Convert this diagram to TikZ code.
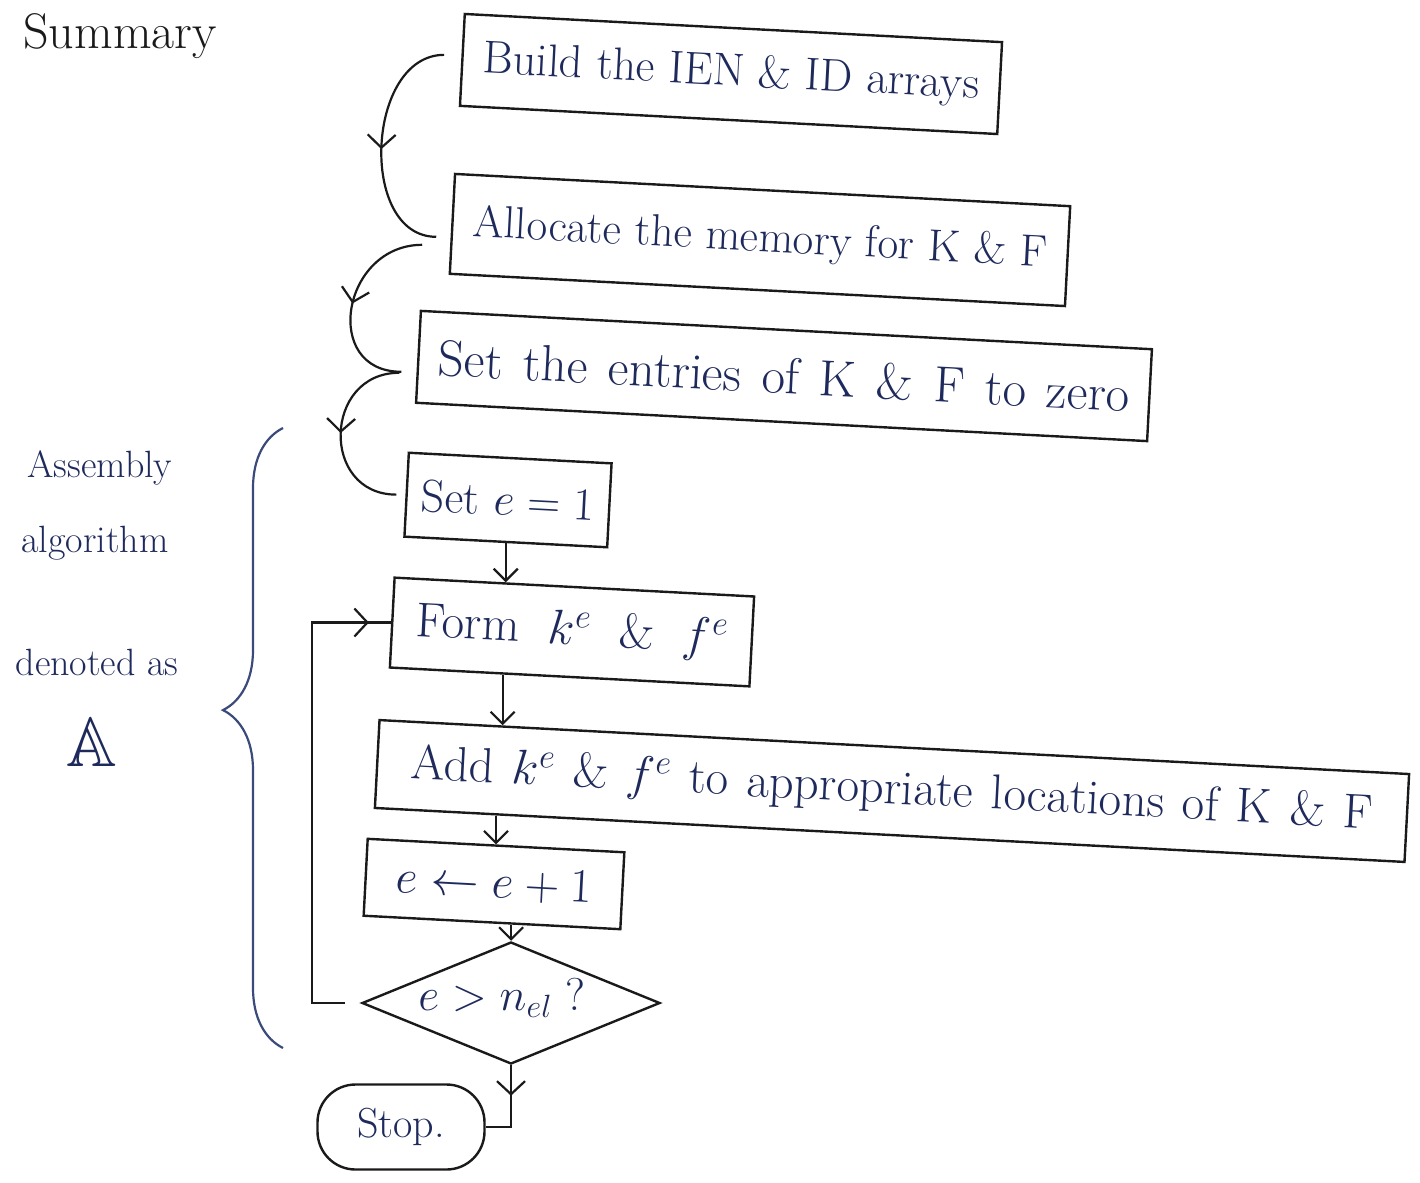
\RequirePackage{fix-cm}
\documentclass[tikz,border=0pt]{standalone}
\usepackage{amssymb}
\usetikzlibrary{shapes.geometric,decorations.markings,decorations.pathreplacing,arrows.meta,calc}
\definecolor{ink}{HTML}{1F2A5C}
\definecolor{pen}{HTML}{1A1A1A}
\definecolor{bracecol}{HTML}{3A4A7A}
\newcommand{\wsp}[1]{\spaceskip=#1\relax}
\begin{document}
\begin{tikzpicture}[x=1pt,y=-1pt,
  box/.style={draw=pen, line width=2.4pt, rectangle, rotate=-3, inner sep=0pt, text=ink,
              font=\fontsize{46}{52}\selectfont},
  flow/.style={draw=pen, line width=2.2pt},
  tipend/.style={-{Straight Barb[length=12pt,width=24pt]}},
  midtip/.style={postaction={decorate},
     decoration={markings, mark=at position #1 with {\arrow{Straight Barb[length=13pt,width=28pt]}}}},
  midtip/.default=0.5,
  lbl/.style={text=ink, font=\fontsize{38}{44}\selectfont, align=center},
]
\useasboundingbox (0,0) rectangle (1420,1182);

% left labels
\node[text=pen, font=\fontsize{50}{54}\selectfont] (summary) at (120,36) {Summary};
\node[lbl] (asm) at (100,468) {Assembly};
\node[lbl] (alg) at (95,543) {algorithm};
\node[lbl] (den) at (97,662) {denoted as};
\node[text=ink, font=\fontsize{70}{76}\selectfont] (bbA) at (92,742) {$\mathbb{A}$};

% brace
\draw[bracecol, line width=2.2pt, decorate, decoration={brace, amplitude=60pt, aspect=0.545}]
  (283,1048) -- (283,428);

% boxes
\node[box, minimum width=538pt, minimum height=92pt, font=\fontsize{46}{52}\selectfont] (b1) at (731,74) {Build the IEN \& ID arrays};
\node[box, minimum width=616pt, minimum height=100pt, font=\fontsize{45}{52}\selectfont] (b2) at (760,240) {Allocate the memory for K \& F};
\node[box, minimum width=732pt, minimum height=92pt, font=\fontsize{51}{58}\selectfont] (b3) at (784,376) {\wsp{0.4em}Set the entries of K \& F to zero};
\node[box, minimum width=203pt, minimum height=84pt] (b4) at (508,500) {Set $e=1$};
\node[box, minimum width=360pt, minimum height=90pt, font=\fontsize{49}{56}\selectfont] (b5) at (572,632) {\wsp{0.58em}Form $k^e$ \& $f^e$};
\node[box, minimum width=1031pt, minimum height=88pt, font=\fontsize{49}{56}\selectfont] (b6) at (892,791) {\wsp{0.37em}Add $k^e$ \& $f^e$ to appropriate locations of K \& F};
\node[box, minimum width=257pt, minimum height=77pt, font=\fontsize{48}{52}\selectfont] (b7) at (494,884) {$e \leftarrow e+1$};
\node[diamond, draw=pen, line width=2.4pt, minimum width=298pt, minimum height=122pt, inner sep=0pt] (dec) at (511,1003) {};
\node[text=ink, font=\fontsize{46}{52}\selectfont] (dect) at (502,998) {$e > n_{el}$ ?};
\node[draw=pen, line width=2.4pt, rounded corners=38pt, minimum width=167pt, minimum height=85pt,
      text=ink, font=\fontsize{42}{46}\selectfont] (stop) at (401,1127) {Stop.};

% curved connectors
\draw[flow, midtip=0.52] ($(b1.west)+(-17,-5)$) to[out=180,in=180,looseness=1.1] ($(b2.west)+(-15,13)$);
\draw[flow, midtip=0.5] ($(b2.west)+(-29,21)$) to[out=180,in=180,looseness=1.6] ($(b3.west)+(-16,15)$);
\draw[flow, midtip=0.5] ($(b3.west)+(-18,16)$) to[out=180,in=180,looseness=1.6] ($(b4.west)+(-9,0)$);

% edge points for the vertical connectors
\coordinate (b5top) at ($(b5.north west)!0.31!(b5.north east)$);
\coordinate (b5bot) at ($(b5.south west)!0.315!(b5.south east)$);
\coordinate (b6top) at ($(b6.north west)!0.12!(b6.north east)$);
\coordinate (b6bot) at ($(b6.south west)!0.1186!(b6.south east)$);
\coordinate (b7top) at ($(b7.north west)!0.504!(b7.north east)$);
\coordinate (b7bot) at ($(b7.south west)!0.574!(b7.south east)$);

% straight connectors
\draw[flow, tipend] (b4.south) -- (b4.south |- b5top);
\draw[flow, tipend] (b5bot) -- (b5bot |- b6top);
\draw[flow, tipend] (b6bot) -- (b6bot |- b7top);
\draw[flow, tipend] (b7bot) -- (b7bot |- dec.north);

% loop back
\coordinate (loopx) at (312,0);
\draw[flow, midtip=0.955] ($(dec.west)+(-16,0)$) -- (dec.west -| loopx) -- (loopx |- b5.west) -- (b5.west);

% to stop
\draw[flow, midtip=0.35] (dec.south) -- (dec.south |- stop.east) -- (stop.east);
\end{tikzpicture}
\end{document}
